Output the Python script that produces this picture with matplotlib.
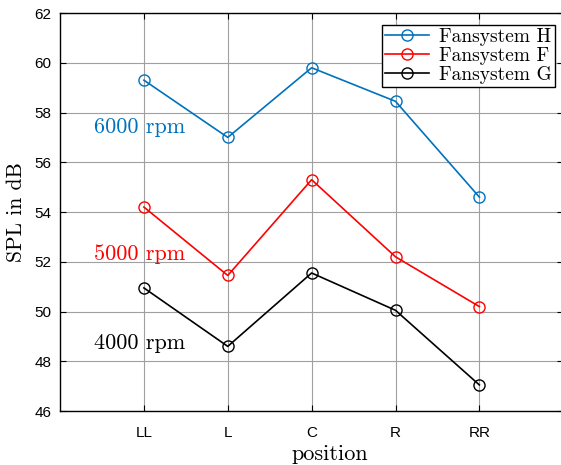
import numpy as np
import matplotlib.pyplot as plt

# data
positions = ['LL', 'L', 'C', 'R', 'RR']
spl_H = [59.3, 57.0, 59.8, 58.45, 54.6]
spl_F = [54.2, 51.45, 55.3, 52.2, 50.2]
spl_G = [50.95, 48.6, 51.55, 50.05, 47.05]
rpm_labels = ['6000 rpm', '5000 rpm', '4000 rpm']
rpm_y = [57.42, 52.31, 48.73]

blue = '#0072BD'
red = '#FF0000'
black = '#000000'
serif = 'cmr10'

fig = plt.figure(figsize=(5.61, 4.65), dpi=100)
ax = fig.add_axes([0.107, 0.116, 0.897, 0.856])

x = np.arange(1, len(positions) + 1)
ax.plot(x, spl_H, '-o', color=blue, mfc='none', ms=8, lw=1.2, label='Fansystem H')
ax.plot(x, spl_F, '-o', color=red, mfc='none', ms=8, lw=1.2, label='Fansystem F')
ax.plot(x, spl_G, '-o', color=black, mfc='none', ms=8, lw=1.2, label='Fansystem G')

for txt, yy, c in zip(rpm_labels, rpm_y, [blue, red, black]):
    ax.text(0.4, yy, txt, color=c, family=serif, fontsize=16, ha='left', va='center')

ax.set_xlim(0, 6)
ax.set_ylim(46, 62)
ax.set_xticks(x)
ax.set_xticklabels(positions)
ax.set_yticks(np.arange(46, 63, 2))
ax.grid(True, color='#a0a0a0', lw=0.8)
ax.set_axisbelow(True)
ax.tick_params(direction='in', length=4, top=True, right=True, labelsize=11)
ax.tick_params(axis='x', pad=11)
ax.tick_params(axis='y', pad=6)
for lab in ax.get_xticklabels() + ax.get_yticklabels():
    lab.set_family('Liberation Sans')
for sp in ax.spines.values():
    sp.set_linewidth(1.0)

ax.set_xlabel('position', family=serif, fontsize=16, labelpad=2)
ax.xaxis.set_label_coords(0.537, -0.083)
ax.set_ylabel('SPL in dB', family=serif, fontsize=15.5, labelpad=6)

leg = ax.legend(loc='upper right', bbox_to_anchor=(0.983, 0.97), prop={'family': serif, 'size': 14},
                fancybox=False, framealpha=1, edgecolor='black', borderpad=0.15,
                labelspacing=0.05, handlelength=2.3, handletextpad=0.5, borderaxespad=0)
leg.get_frame().set_linewidth(1.0)

fig.savefig('out.png', dpi=100)
